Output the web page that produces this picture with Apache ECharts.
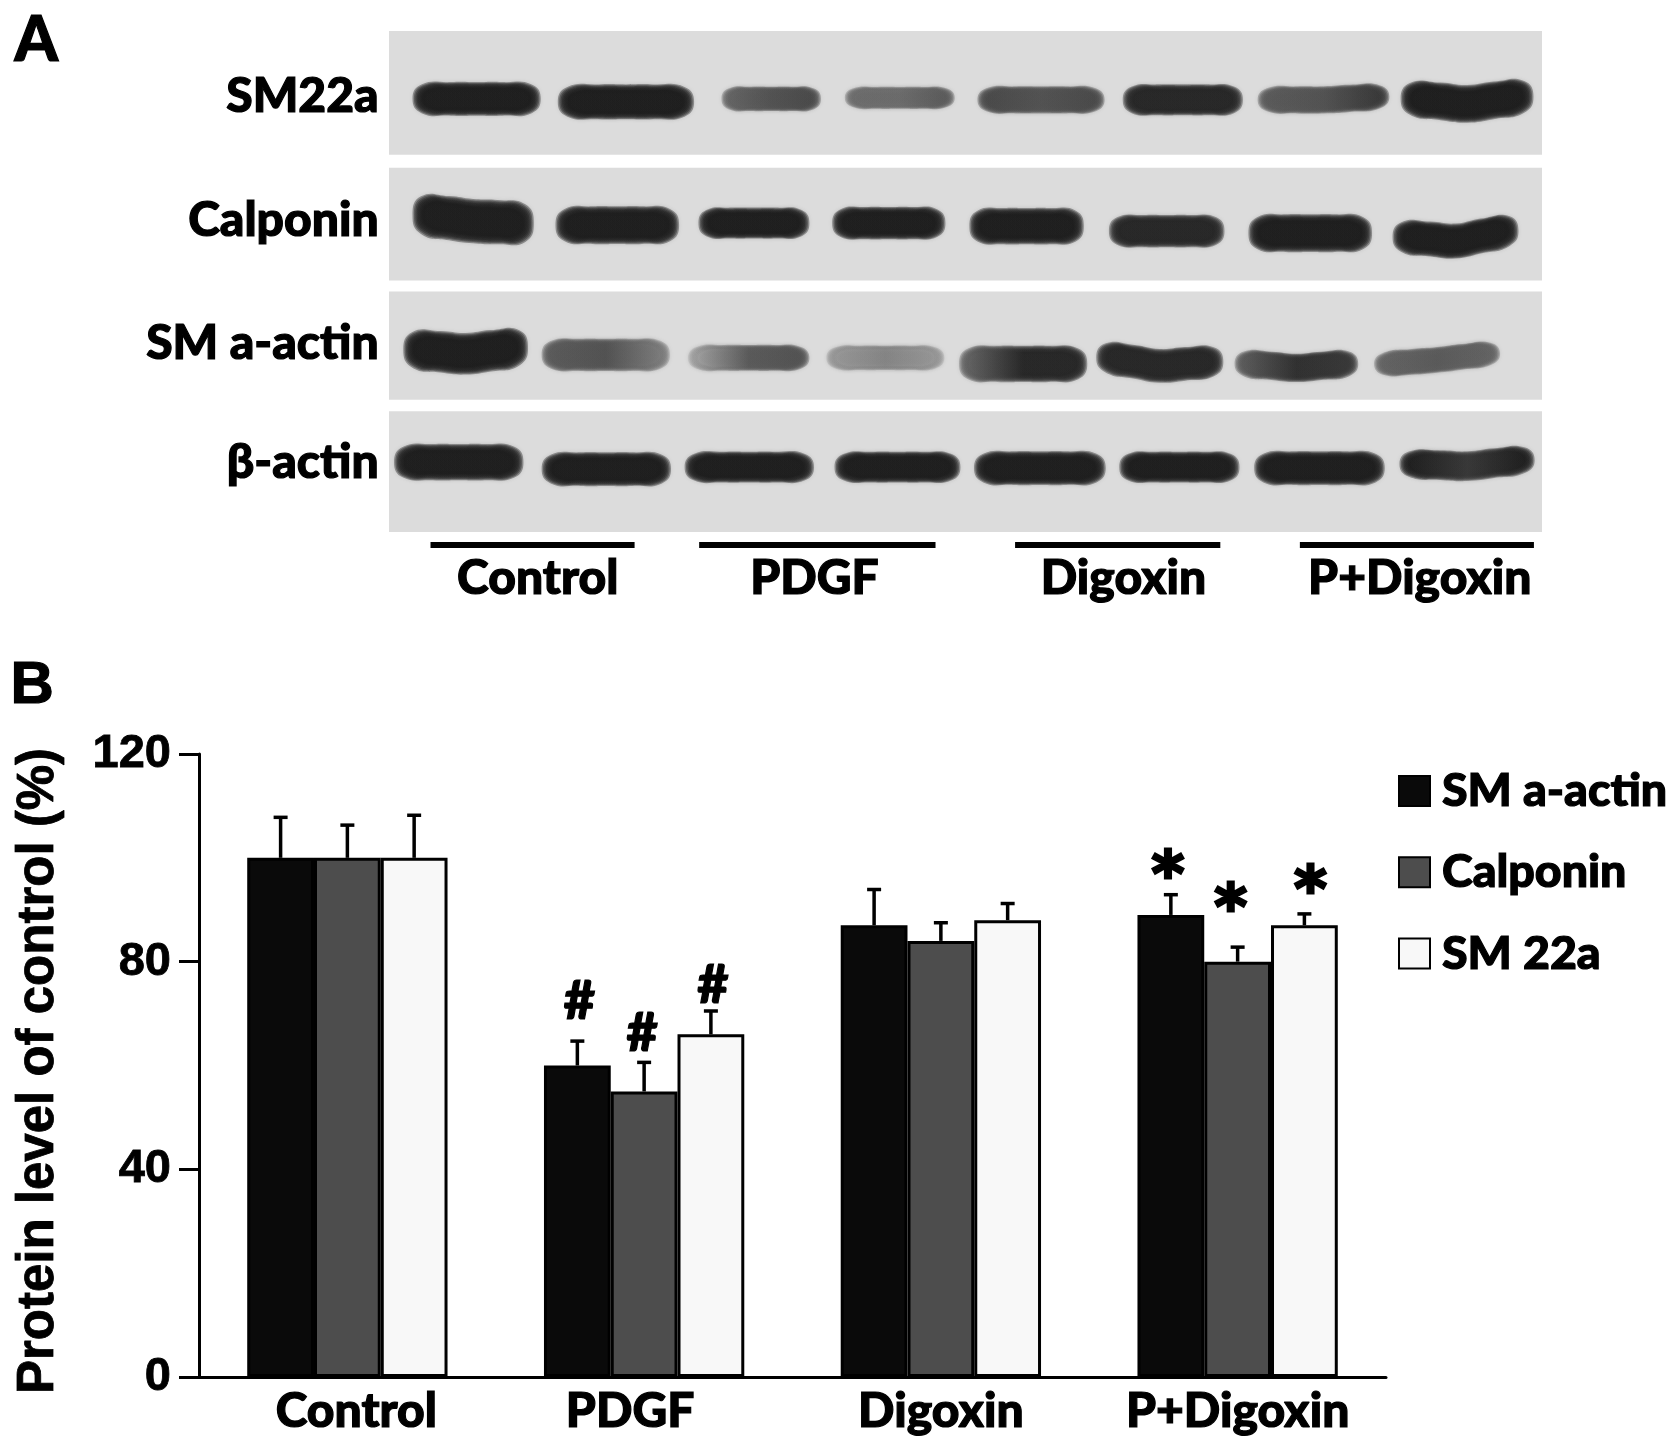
<!DOCTYPE html>
<html>
<head>
<meta charset="utf-8">
<title>Protein level of control</title>
<script src="https://cdn.jsdelivr.net/npm/echarts@6/dist/echarts.min.js"></script>
<style>
  html, body { margin: 0; padding: 0; background: #fff; }
  #chart { width: 1677px; height: 1450px; }
</style>
</head>
<body>
<div id="chart"></div>
<script>
// panel B values
const groups = ['Control', 'PDGF', 'Digoxin', 'P+Digoxin']
const seriesNames = ['SM a-actin', 'Calponin', 'SM 22a']
const smActinValues = [100, 60, 87, 89]
const calponinValues = [100, 55, 84, 80]
const sm22aValues = [100, 66, 88, 87]
const smActinErrTop = [107.8, 64.7, 93.9, 92.9]
const calponinErrTop = [106.3, 60.6, 87.5, 82.8]
const sm22aErrTop = [108.2, 70.5, 91.2, 89.2]
// significance marks: group index, series index, symbol, height on the y scale
const marks = [
  [1, 0, '#', 72.3], [1, 1, '#', 66.1], [1, 2, '#', 75.3],
  [3, 0, '*', 98.1], [3, 1, '*', 91.8], [3, 2, '*', 95.2]
]
// the marks sit a little off their bar centres in the source
const markNudge = [2, -2, 2, -3, -7, 6]

// panel A, in % of blot width / height
// start, end, y left, y mid, y right, thickness, darkness left, mid, right
const sm22aBands = [
  [2.3, 12.9, 13.6, 13.6, 13.6, 4.8, 1, 1, 1],
  [14.9, 26.2, 14.2, 14.2, 14.2, 5.0, 1, 1, 1],
  [29.1, 37.2, 13.6, 13.6, 13.6, 3.4, 0.6, 0.7, 0.75],
  [39.8, 48.8, 13.4, 13.4, 13.4, 3.0, 0.55, 0.55, 0.65],
  [51.3, 61.8, 13.8, 13.8, 13.8, 3.8, 0.75, 0.7, 0.75],
  [63.9, 73.8, 13.8, 13.8, 13.8, 4.4, 0.95, 0.95, 0.95],
  [75.6, 86.5, 13.8, 13.8, 13.2, 3.8, 0.65, 0.7, 0.85],
  [88.0, 99.0, 13.6, 14.6, 13.2, 5.4, 1, 1, 1]
]
const calponinBands = [
  [2.3, 12.3, 36.9, 38.1, 38.5, 6.4, 1, 1, 1],
  [14.7, 24.9, 38.9, 38.9, 38.9, 5.4, 1, 1, 1],
  [27.1, 36.2, 38.5, 38.5, 38.5, 4.4, 1, 1, 1],
  [38.7, 48.0, 38.5, 38.5, 38.5, 4.6, 1, 1, 1],
  [50.6, 60.0, 39.1, 39.1, 39.1, 5.2, 1, 1, 1],
  [62.7, 72.2, 40.1, 40.1, 40.1, 4.6, 0.95, 0.95, 0.95],
  [74.8, 85.0, 40.5, 40.5, 40.5, 5.4, 1, 1, 1],
  [87.3, 97.7, 41.3, 42.1, 40.1, 5.0, 1, 1, 1]
]
const smActinBands = [
  [1.5, 11.8, 63.9, 64.7, 63.5, 6.0, 1, 1, 1],
  [13.5, 24.1, 64.9, 64.9, 64.9, 4.6, 0.65, 0.7, 0.45],
  [26.2, 36.2, 65.5, 65.5, 65.5, 3.6, 0.25, 0.65, 0.7],
  [38.2, 47.9, 65.5, 65.5, 65.5, 3.4, 0.3, 0.4, 0.3],
  [49.7, 60.3, 66.7, 66.7, 66.7, 5.2, 0.6, 0.95, 0.95],
  [61.6, 72.1, 65.5, 67.1, 66.3, 4.8, 0.95, 0.95, 0.95],
  [73.6, 83.8, 66.7, 67.5, 66.7, 4.0, 0.65, 0.9, 0.85],
  [85.7, 96.1, 66.7, 65.9, 64.7, 3.6, 0.6, 0.65, 0.6]
]
const betaActinBands = [
  [0.7, 11.4, 86.4, 86.4, 86.4, 5.2, 1, 1, 1],
  [13.5, 24.2, 87.8, 87.8, 87.8, 4.8, 1, 1, 1],
  [25.9, 36.6, 87.4, 87.4, 87.4, 4.4, 1, 1, 1],
  [38.9, 49.3, 87.4, 87.4, 87.4, 4.4, 1, 1, 1],
  [51.0, 61.9, 87.6, 87.6, 87.6, 4.8, 1, 1, 1],
  [63.6, 73.5, 87.4, 87.4, 87.4, 4.4, 1, 1, 1],
  [75.3, 86.1, 87.6, 87.6, 87.6, 4.8, 1, 1, 1],
  [87.9, 99.1, 86.8, 87.2, 86.0, 4.2, 1, 0.85, 1]
]
// membrane strips: top, bottom
const blotStrips = [[0, 24.8], [27.4, 50], [52.2, 73.9], [76.2, 100.4]]
const blotLabels = [['SM22a', 13.2], ['Calponin', 37.9], ['SM a-actin', 62.7], ['β-actin', 86.4]]
// group line start, line end, label centre
const blotGroups = [
  ['Control', 3.6, 21.3, 12.9],
  ['PDGF', 26.9, 47.4, 36.9],
  ['Digoxin', 54.3, 72.1, 63.7],
  ['P+Digoxin', 79.0, 99.3, 89.4]
]

const LABEL_FONT = 'Lato'
const AXIS_FONT = '"Liberation Sans"'
const barColors = ['#0a0a0a', '#4d4d4d', '#f8f8f8']
// the source lettering is heavier than any installed bold
const heavy = { stroke: '#000', lineWidth: 1.2 }

function grey(d) {
  const v = Math.round(220 - d * 195)
  return `rgb(${v},${v},${v})`
}

function renderStrip(params, api) {
  const tl = api.coord([0, api.value(0)])
  const br = api.coord([100, api.value(1)])
  return { type: 'rect', shape: { x: tl[0], y: tl[1], width: br[0] - tl[0], height: br[1] - tl[1] }, style: { fill: '#dcdcdc' } }
}

function bandPolygon(api, half, inset) {
  const x0 = api.value(0), x1 = api.value(1)
  const L = api.coord([x0, api.value(2)])
  const M = api.coord([(x0 + x1) / 2, api.value(3)])
  const R = api.coord([x1, api.value(4)])
  const left = L[0] + inset, right = R[0] - inset
  const px = right - left
  const a = (L[1] + M[1]) / 2, b = (M[1] + R[1]) / 2
  return [
    [left, L[1]],
    [left + px * 0.07, L[1] - half * 0.85],
    [left + px * 0.3, a - half],
    [M[0], M[1] - half],
    [left + px * 0.7, b - half],
    [left + px * 0.93, R[1] - half * 0.85],
    [right, R[1]],
    [left + px * 0.93, R[1] + half * 0.85],
    [left + px * 0.7, b + half],
    [M[0], M[1] + half],
    [left + px * 0.3, a + half],
    [left + px * 0.07, L[1] + half * 0.85]
  ]
}

function renderBand(params, api) {
  const half = api.size([0, api.value(5)])[1] / 2
  const fill = new echarts.graphic.LinearGradient(0, 0, 1, 0, [
    { offset: 0, color: grey(api.value(6)) },
    { offset: 0.5, color: grey(api.value(7)) },
    { offset: 1, color: grey(api.value(8)) }
  ])
  // stacked translucent outlines give the film's soft edge
  const children = []
  for (let k = 0; k < 8; k++) {
    children.push({
      type: 'polygon',
      shape: { points: bandPolygon(api, half * (1.32 - k * 0.07) + 1, k * 1.4 - 3), smooth: 0.5 },
      style: { fill, opacity: 0.38, shadowBlur: 4, shadowColor: 'rgba(60,60,60,0.25)' }
    })
  }
  return { type: 'group', children }
}

function renderBlotLabel(params, api) {
  const p = api.coord([-0.9, api.value(0)])
  return {
    type: 'text',
    x: p[0], y: p[1],
    style: { text: blotLabels[params.dataIndex][0], font: `900 48px ${LABEL_FONT}`, fill: '#000', align: 'right', verticalAlign: 'middle', ...heavy }
  }
}

function renderBlotGroup(params, api) {
  const a = api.coord([api.value(0), 103])
  const b = api.coord([api.value(1), 103])
  const c = api.coord([api.value(2), 109.8])
  return {
    type: 'group',
    children: [
      { type: 'rect', shape: { x: a[0], y: a[1] - 3, width: b[0] - a[0], height: 6 }, style: { fill: '#000' } },
      { type: 'text', x: c[0], y: c[1], style: { text: blotGroups[params.dataIndex][0], font: `900 48px ${LABEL_FONT}`, fill: '#000', align: 'center', verticalAlign: 'middle', ...heavy } }
    ]
  }
}

function barOffset(api, seriesIdx) {
  return (seriesIdx - 1) * api.size([1, 0])[0] * 0.225
}

function renderErr(seriesIdx) {
  return function (params, api) {
    const base = api.coord([api.value(0), api.value(1)])
    const top = api.coord([api.value(0), api.value(2)])
    const x = base[0] + barOffset(api, seriesIdx)
    const style = { stroke: '#000', lineWidth: 3.5 }
    return {
      type: 'group',
      children: [
        { type: 'line', shape: { x1: x, y1: base[1], x2: x, y2: top[1] }, style },
        { type: 'line', shape: { x1: x - 7, y1: top[1], x2: x + 7, y2: top[1] }, style }
      ]
    }
  }
}

function renderMark(params, api) {
  const m = marks[params.dataIndex]
  const p = api.coord([m[0], m[3]])
  const isStar = m[2] === '*'
  return {
    type: 'text',
    x: p[0] + barOffset(api, m[1]) + markNudge[params.dataIndex],
    y: p[1] + (isStar ? 11 : 0),
    style: {
      text: m[2],
      font: isStar ? 'bold 62px "DejaVu Sans"' : `900 54px ${LABEL_FONT}`,
      fill: '#000', align: 'center', verticalAlign: 'middle',
      stroke: '#000', lineWidth: isStar ? 3 : 1.2
    }
  }
}

const barValues = [smActinValues, calponinValues, sm22aValues]
const errTops = [smActinErrTop, calponinErrTop, sm22aErrTop]

const chart = echarts.init(document.getElementById('chart'), null, { renderer: 'canvas' })

const blotAxis = { gridIndex: 1, type: 'value', min: 0, max: 100, show: false }
const blotOn = { coordinateSystem: 'cartesian2d', xAxisIndex: 1, yAxisIndex: 1, silent: true, clip: false, animation: false }

chart.setOption({
  animation: false,
  backgroundColor: '#fff',
  graphic: [
    { type: 'text', left: 14, top: 9, style: { text: 'A', font: `900 62px ${LABEL_FONT}`, fill: '#000', ...heavy } },
    { type: 'text', left: 10, top: 656, style: { text: 'B', font: `bold 60px ${AXIS_FONT}`, fill: '#000', ...heavy } }
  ],
  grid: [
    { left: 199, right: 291, top: 754, bottom: 73, outerBoundsMode: 'none' },
    { left: 389, top: 31, width: 1153, height: 499, outerBoundsMode: 'none' }
  ],
  xAxis: [
    {
      type: 'category',
      data: [
        { value: groups[0], textStyle: { padding: [0, 0, 0, 18] } },
        { value: groups[1], textStyle: { padding: [0, 28, 0, 0] } },
        groups[2],
        groups[3]
      ],
      axisLine: { lineStyle: { color: '#000', width: 3 } },
      axisTick: { show: false },
      axisLabel: { color: '#000', fontFamily: LABEL_FONT, fontWeight: 900, fontSize: 48, margin: 11, interval: 0, textBorderColor: '#000', textBorderWidth: 1.2 }
    },
    blotAxis
  ],
  yAxis: [
    {
      type: 'value',
      min: 0,
      max: 120,
      interval: 40,
      name: 'Protein level of control (%)',
      nameLocation: 'middle',
      nameGap: 135,
      nameTextStyle: { color: '#000', fontFamily: AXIS_FONT, fontWeight: 'bold', fontSize: 51, textBorderColor: '#000', textBorderWidth: 0.8, padding: [0, 11, 0, 0] },
      axisLine: { show: true, lineStyle: { color: '#000', width: 3 } },
      axisTick: { show: true, length: 20, lineStyle: { color: '#000', width: 3 } },
      axisLabel: { color: '#000', fontFamily: AXIS_FONT, fontWeight: 'bold', fontSize: 47, margin: 28, padding: [7, 0, 0, 0], textBorderColor: '#000', textBorderWidth: 0.8 },
      splitLine: { show: false }
    },
    { ...blotAxis, inverse: true }
  ],
  legend: {
    data: seriesNames.map(name => ({ name, icon: 'rect' })),
    orient: 'vertical',
    left: 1398,
    top: 767,
    padding: 0,
    itemWidth: 31,
    itemHeight: 30,
    itemGap: 33,
    selectedMode: false,
    textStyle: { color: '#000', fontFamily: LABEL_FONT, fontWeight: 900, fontSize: 46.5, padding: [0, 0, 0, 7], textBorderColor: '#000', textBorderWidth: 1.2 }
  },
  series: [
    ...seriesNames.map((name, i) => ({
      name,
      type: 'bar',
      barWidth: '22.5%',
      barGap: 0,
      data: barValues[i],
      itemStyle: { color: barColors[i], borderColor: '#000', borderWidth: 3 }
    })),
    ...seriesNames.map((name, i) => ({
      type: 'custom',
      renderItem: renderErr(i),
      data: groups.map((g, j) => [j, barValues[i][j], errTops[i][j]]),
      z: 1,
      silent: true
    })),
    { type: 'custom', renderItem: renderMark, data: marks.map(m => [m[0], m[3]]), z: 3, silent: true, clip: false },
    { ...blotOn, type: 'custom', renderItem: renderStrip, data: blotStrips, z: 1 },
    {
      ...blotOn,
      type: 'custom',
      renderItem: renderBand,
      data: [...sm22aBands, ...calponinBands, ...smActinBands, ...betaActinBands],
      z: 2
    },
    { ...blotOn, type: 'custom', renderItem: renderBlotLabel, data: blotLabels.map(l => [l[1]]), z: 3 },
    { ...blotOn, type: 'custom', renderItem: renderBlotGroup, data: blotGroups.map(g => [g[1], g[2], g[3]]), z: 3 }
  ]
})
</script>
</body>
</html>
